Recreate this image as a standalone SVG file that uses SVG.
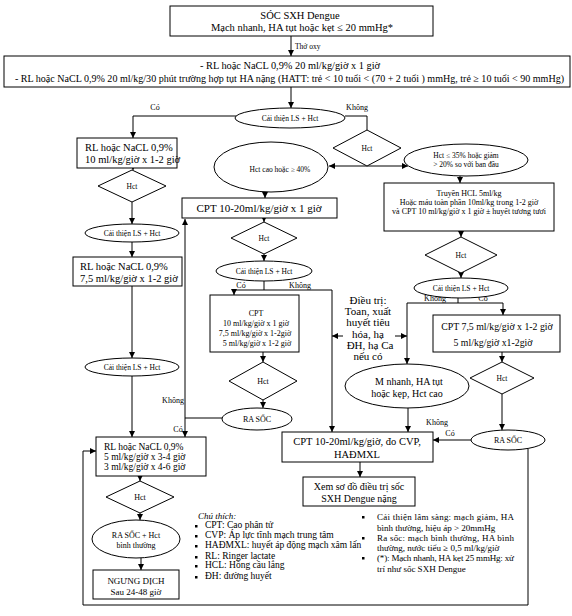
<svg xmlns="http://www.w3.org/2000/svg" width="572" height="616" viewBox="0 0 572 616">
<defs>
<marker id="ah" viewBox="0 0 10 10" refX="10" refY="5" markerWidth="6" markerHeight="6" markerUnits="userSpaceOnUse" orient="auto"><path d="M0,0 L10,5 L0,10 z" fill="#000"/></marker>
</defs>
<style>
.b{fill:#fff;stroke:#000;stroke-width:1}
.l{fill:none;stroke:#000;stroke-width:1}
.a{fill:none;stroke:#000;stroke-width:1;marker-end:url(#ah)}
text{font-family:"Liberation Serif","Times New Roman",serif;fill:#000}
.c{text-anchor:middle}
.s{font-size:7.5px}
.t{font-size:8px}
.m{font-size:10.5px}
.n{font-size:9px}
</style>
<rect width="572" height="616" fill="#fff"/>

<g id="connectors">
<line class="a" x1="291" y1="36" x2="291" y2="56"/>
<line class="a" x1="291" y1="87" x2="291" y2="108"/>
<polyline class="a" points="236,116 133,116 133,138"/>
<polyline class="l" points="345,116 367,116 367,130"/>
<line class="a" x1="367" y1="166" x2="329" y2="166"/>
<line class="a" x1="367" y1="166" x2="408" y2="166"/>
<line class="a" x1="265" y1="192" x2="265" y2="198"/>
<line class="a" x1="264" y1="218" x2="264" y2="222"/>
<line class="a" x1="264" y1="254" x2="264" y2="261"/>
<polyline class="l" points="264,281 264,290"/>
<polyline class="a" points="264,290 234,290 234,295"/>
<polyline class="a" points="264,290 332,290 332,432"/>
<line class="a" x1="263" y1="352" x2="263" y2="362"/>
<line class="a" x1="263" y1="400" x2="263" y2="408"/>
<line class="l" x1="222" y1="418" x2="185" y2="418"/>
<line class="a" x1="185" y1="418" x2="185" y2="219"/>
<line class="a" x1="185" y1="418" x2="185" y2="437"/>
<line class="a" x1="133" y1="168" x2="133" y2="170"/>
<line class="a" x1="132" y1="202" x2="132" y2="224"/>
<line class="a" x1="132" y1="242" x2="132" y2="257"/>
<line class="a" x1="132" y1="286" x2="132" y2="358"/>
<line class="a" x1="132" y1="376" x2="132" y2="437"/>
<line class="a" x1="460" y1="176" x2="460" y2="183"/>
<line class="a" x1="461" y1="231" x2="461" y2="237"/>
<line class="a" x1="461" y1="273" x2="461" y2="278"/>
<polyline class="l" points="458,298 458,303"/>
<polyline class="a" points="458,303 407,303 407,364"/>
<polyline class="a" points="458,303 503,303 503,315"/>
<line class="a" x1="502" y1="352" x2="502" y2="362"/>
<line class="a" x1="502" y1="394" x2="502" y2="430"/>
<line class="a" x1="471" y1="440" x2="433" y2="440"/>
<line class="a" x1="408" y1="408" x2="408" y2="432"/>
<line class="a" x1="343" y1="336" x2="332" y2="336"/>
<line class="a" x1="395" y1="336" x2="407" y2="336"/>
<line class="a" x1="360" y1="462" x2="360" y2="477"/>
<polyline class="a" points="528,448 528,605 83,605 83,451 96,451"/>
<line class="a" x1="140" y1="476" x2="140" y2="481"/>
<line class="a" x1="140" y1="513" x2="140" y2="520"/>
<line class="a" x1="141" y1="558" x2="141" y2="570"/>
<text class="s" x="295" y="49">Thở oxy</text>
<text class="t c" x="155" y="110">Có</text>
<text class="t c" x="357" y="110">Không</text>
<text class="t c" x="241" y="288">Có</text>
<text class="t c" x="300" y="288">Không</text>
<text class="t c" x="173" y="403">Không</text>
<text class="t c" x="178" y="432">Có</text>
<text class="t c" x="435" y="301">Không</text>
<text class="t c" x="483" y="301">Có</text>
<text class="t c" x="437" y="425">Không</text>
<text class="t c" x="450" y="436">Có</text>
</g>

<g id="n-top">
<rect class="b" x="170" y="6" width="263" height="30"/>
<text class="m c" x="300" y="19">SÓC SXH Dengue</text>
<text class="m c" x="302" y="31">Mạch nhanh, HA tụt hoặc kẹt ≤ 20 mmHg*</text>
</g>
<g id="n-rl20">
<rect class="b" x="4" y="56" width="566" height="31"/>
<text class="m" x="200" y="69" textLength="180" lengthAdjust="spacingAndGlyphs">- RL hoặc NaCL 0,9% 20 ml/kg/giờ x 1 giờ</text>
<text style="font-size:10px" x="15" y="82" textLength="549" lengthAdjust="spacingAndGlyphs">- RL hoặc NaCL 0,9% 20 ml/kg/30 phút trường hợp tụt HA nặng (HATT: trẻ  &lt; 10 tuổi &lt; (70 + 2 tuổi ) mmHg, trẻ ≥ 10 tuổi &lt; 90 mmHg)</text>
</g>
<g id="n-ct1">
<ellipse class="b" cx="290" cy="118" rx="55" ry="10"/>
<text class="s c" x="290" y="121">Cải thiện LS + Hct</text>
</g>
<g id="n-hct1">
<polygon class="b" points="367,130 401,148 367,166 333,148"/>
<text class="s c" x="367" y="151">Hct</text>
</g>
<g id="n-hctcao">
<ellipse class="b" cx="271" cy="167" rx="57" ry="25"/>
<text class="s c" x="280" y="172">Hct cao hoặc ≥ 40%</text>
</g>
<g id="n-hct35">
<ellipse class="b" cx="466" cy="160" rx="62" ry="16"/>
<text class="s c" x="466" y="158">Hct ≤ 35% hoặc giảm</text>
<text class="s c" x="466" y="167">&gt; 20% so với ban đầu</text>
</g>
<g id="n-rl10">
<rect class="b" x="77" y="138" width="100" height="30"/>
<text class="m" x="85" y="151">RL hoặc NaCL 0,9%</text>
<text class="m" x="85" y="163">10 ml/kg/giờ x 1-2 giờ</text>
</g>
<g id="n-hctL1">
<polygon class="b" points="132,170 166,186 132,202 98,186"/>
<text class="s c" x="132" y="189">Hct</text>
</g>
<g id="n-ctL1">
<ellipse class="b" cx="132" cy="233" rx="47" ry="9"/>
<text class="s c" x="132" y="236">Cải thiện LS + Hct</text>
</g>
<g id="n-rl75">
<rect class="b" x="73" y="257" width="109" height="29"/>
<text class="m" x="80" y="270">RL hoặc NaCL 0,9%</text>
<text class="m" x="80" y="282">7,5 ml/kg/giờ x 1-2 giờ</text>
</g>
<g id="n-ctL2">
<ellipse class="b" cx="132" cy="367" rx="47" ry="9"/>
<text class="s c" x="132" y="370">Cải thiện LS + Hct</text>
</g>
<g id="n-cpt1020">
<rect class="b" x="182" y="198" width="155" height="20"/>
<text class="c" style="font-size:11px" x="259" y="212">CPT 10-20ml/kg/giờ x 1 giờ</text>
</g>
<g id="n-hctM1">
<polygon class="b" points="264,222 297,238 264,254 231,238"/>
<text class="s c" x="264" y="241">Hct</text>
</g>
<g id="n-ctM">
<ellipse class="b" cx="264" cy="271" rx="48" ry="10"/>
<text class="s c" x="264" y="274">Cải thiện LS + Hct</text>
</g>
<g id="n-cptM">
<rect class="b" x="210" y="295" width="89" height="57"/>
<text class="t c" x="256" y="316">CPT</text>
<text class="t c" x="256" y="326">10 ml/kg/giờ x 1 giờ</text>
<text class="t c" x="255" y="336">7,5 ml/kg/giờ x 1-2giờ</text>
<text class="t c" x="257" y="346">5 ml/kg/giờ x 1-2 giờ</text>
</g>
<g id="n-hctM2">
<polygon class="b" points="263,362 297,381 263,400 229,381"/>
<text class="t c" x="263" y="384">Hct</text>
</g>
<g id="n-rasocM">
<ellipse class="b" cx="257" cy="419" rx="35" ry="11"/>
<text class="t c" x="257" y="422">RA SỐC</text>
</g>
<g id="n-dieutri">
<text class="c" style="font-size:11px" x="368" y="304">Điều trị:</text>
<text class="c" style="font-size:11px" x="368" y="315">Toan, xuất</text>
<text class="c" style="font-size:11px" x="368" y="326">huyết tiêu</text>
<text class="c" style="font-size:11px" x="368" y="338">hóa, hạ</text>
<text class="c" style="font-size:11px" x="370" y="349">ĐH, hạ Ca</text>
<text class="c" style="font-size:11px" x="368" y="360">nếu có</text>
</g>
<g id="n-truyen">
<rect class="b" x="384" y="183" width="170" height="48"/>
<text class="t c" x="469" y="196">Truyền HCL 5ml/kg</text>
<text class="t c" x="469" y="205">Hoặc máu toàn phần 10ml/kg trong 1-2 giờ</text>
<text class="t c" x="469" y="214">và CPT 10 ml/kg/giờ x 1 giờ ± huyết tương tươi</text>
</g>
<g id="n-hctR1">
<polygon class="b" points="461,237 497,255 461,273 425,255"/>
<text class="s c" x="461" y="258">Hct</text>
</g>
<g id="n-ctR">
<ellipse class="b" cx="461" cy="288" rx="47" ry="10"/>
<text class="s c" x="461" y="291">Cải thiện LS + Hct</text>
</g>
<g id="n-cpt75">
<rect class="b" x="433" y="315" width="127" height="37"/>
<text class="c" style="font-size:9.8px" x="497" y="330">CPT 7,5 ml/kg/giờ x 1-2 giờ</text>
<text class="c" style="font-size:9.8px" x="493" y="346">5 ml/kg/giờ x1-2giờ</text>
</g>
<g id="n-hctR2">
<polygon class="b" points="502,362 534,378 502,394 470,378"/>
<text class="s c" x="502" y="381">Hct</text>
</g>
<g id="n-rasocR">
<ellipse class="b" cx="508" cy="440" rx="37" ry="10"/>
<text class="t c" x="508" y="443">RA SỐC</text>
</g>
<g id="n-mnhanh">
<ellipse class="b" cx="407" cy="386" rx="62" ry="22"/>
<text class="c" style="font-size:10px" x="409" y="385">M nhanh, HA tụt</text>
<text class="c" style="font-size:10px" x="407" y="397">hoặc kẹp, Hct cao</text>
</g>
<g id="n-cptcvp">
<rect class="b" x="282" y="432" width="151" height="30"/>
<text class="c" style="font-size:10.5px" x="357" y="445">CPT 10-20ml/kg/giờ, đo CVP,</text>
<text class="c" style="font-size:10.5px" x="357" y="458">HAĐMXL</text>
</g>
<g id="n-xem">
<rect class="b" x="303" y="477" width="112" height="29"/>
<text class="c" style="font-size:10px" x="359" y="490">Xem sơ đồ điều trị sốc</text>
<text class="c" style="font-size:10px" x="359" y="502">SXH Dengue nặng</text>
</g>
<g id="n-rl5">
<rect class="b" x="96" y="437" width="110" height="39"/>
<text style="font-size:9.5px" x="104" y="450">RL hoặc NaCL 0,9%</text>
<text style="font-size:9.5px" x="104" y="460">5 ml/kg/giờ  x 3-4 giờ</text>
<text style="font-size:9.5px" x="104" y="470">3 ml/kg/giờ x 4-6 giờ</text>
</g>
<g id="n-hctL3">
<polygon class="b" points="140,481 174,497 140,513 106,497"/>
<text class="t c" x="140" y="500">Hct</text>
</g>
<g id="n-rasocL">
<ellipse class="b" cx="136" cy="539" rx="44" ry="19"/>
<text class="t c" x="136" y="538">RA SỐC + Hct</text>
<text class="t c" x="136" y="548">bình thường</text>
</g>
<g id="n-ngung">
<rect class="b" x="93" y="570" width="86" height="29"/>
<text class="n c" x="136" y="584">NGƯNG DỊCH</text>
<text class="n c" x="136" y="595">Sau 24-48 giờ</text>
</g>
<g id="legend">
<text style="font-size:9px;font-style:italic" x="198" y="519">Chú thích:</text>
<g fill="#000">
<rect x="195" y="525" width="2.5" height="2.5"/>
<rect x="195" y="535" width="2.5" height="2.5"/>
<rect x="195" y="545" width="2.5" height="2.5"/>
<rect x="195" y="556" width="2.5" height="2.5"/>
<rect x="195" y="565" width="2.5" height="2.5"/>
<rect x="195" y="576" width="2.5" height="2.5"/>
</g>
<text style="font-size:9.5px" x="205" y="528">CPT: Cao phân tử</text>
<text style="font-size:9.5px" x="205" y="538">CVP: Áp lực tĩnh mạch trung tâm</text>
<text style="font-size:9.5px" x="205" y="548">HAĐMXL: huyết áp động mạch xâm lấn</text>
<text style="font-size:9.5px" x="205" y="559">RL: Ringer lactate</text>
<text style="font-size:9.5px" x="205" y="568">HCL: Hồng cầu lắng</text>
<text style="font-size:9.5px" x="205" y="579">ĐH: đường huyết</text>
</g>
<g id="notes">
<g fill="#000">
<rect x="362" y="516" width="2.5" height="2.5"/>
<rect x="362" y="537" width="2.5" height="2.5"/>
<rect x="362" y="557" width="2.5" height="2.5"/>
</g>
<text class="n" x="377" y="520" textLength="137" lengthAdjust="spacing">Cải thiện lâm sàng: mạch giảm, HA</text>
<text class="n" x="377" y="531">bình thường, hiệu áp &gt; 20mmHg</text>
<text class="n" x="377" y="541" textLength="137" lengthAdjust="spacing">Ra sốc: mạch bình thường, HA bình</text>
<text class="n" x="377" y="551">thường, nước tiểu ≥ 0,5 ml/kg/giờ</text>
<text class="n" x="377" y="561" textLength="137" lengthAdjust="spacing">(*): Mạch nhanh, HA kẹt 25 mmHg: xử</text>
<text class="n" x="377" y="572">trí như sốc SXH Dengue</text>
</g>
</svg>
